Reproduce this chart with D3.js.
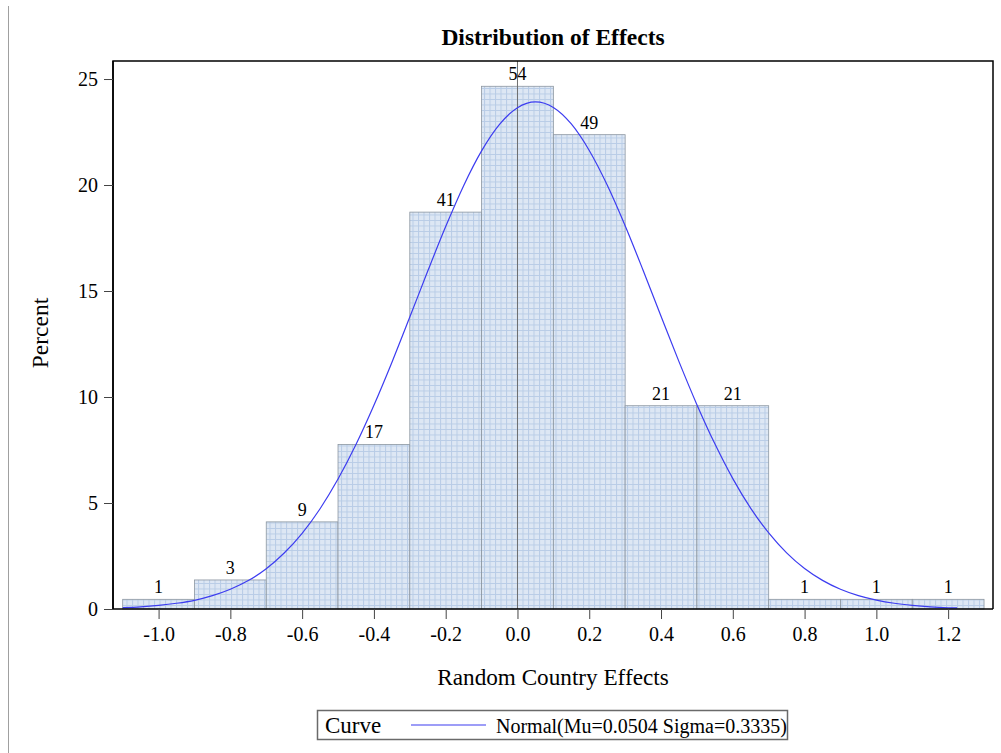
<!DOCTYPE html>
<html>
<head>
<meta charset="utf-8">
<script src="https://cdn.jsdelivr.net/npm/d3@7"></script>
<style>
  body { margin: 0; background: #fff; }
  svg { display: block; font-family: "Liberation Serif", "Times New Roman", serif; }
</style>
</head>
<body>
<svg id="chart" width="1001" height="753"></svg>
<script>
// histogram bins (left edges, width 0.2) and counts
var binStarts = [-1.1, -0.9, -0.7, -0.5, -0.3, -0.1, 0.1, 0.3, 0.5, 0.7, 0.9, 1.1];
var binCounts = [1, 3, 9, 17, 41, 54, 49, 21, 21, 1, 1, 1];
var binWidth = 0.2;
var xTicks = [-1.0, -0.8, -0.6, -0.4, -0.2, 0.0, 0.2, 0.4, 0.6, 0.8, 1.0, 1.2];
var yTicks = [0, 5, 10, 15, 20, 25];

// fitted normal curve (percent)
var curveX = [-1.1, -1.05, -1.0, -0.95, -0.9, -0.85, -0.8, -0.75, -0.7, -0.65, -0.6, -0.55, -0.5, -0.45, -0.4, -0.35, -0.3, -0.25, -0.2, -0.15, -0.1, -0.05, 0.0, 0.05, 0.1, 0.15, 0.2, 0.25, 0.3, 0.35, 0.4, 0.45, 0.5, 0.55, 0.6, 0.65, 0.7, 0.75, 0.8, 0.85, 0.9, 0.95, 1.0, 1.05, 1.1, 1.15, 1.2, 1.225];
var curveY = [0.06, 0.10, 0.17, 0.27, 0.41, 0.63, 0.93, 1.34, 1.90, 2.64, 3.57, 4.73, 6.13, 7.76, 9.61, 11.63, 13.77, 15.94, 18.04, 19.97, 21.61, 22.86, 23.65, 23.92, 23.66, 22.88, 21.63, 20.00, 18.08, 15.98, 13.81, 11.67, 9.64, 7.79, 6.15, 4.75, 3.59, 2.65, 1.91, 1.35, 0.93, 0.63, 0.42, 0.27, 0.17, 0.10, 0.06, 0.05];

(function() {
var total = d3.sum(binCounts);

var svg = d3.select("#chart");
var pLeft = 113, pRight = 993, pTop = 61, pBottom = 609;

var x = d3.scaleLinear().domain([-1.127, 1.325]).range([pLeft, pRight]);
var y = d3.scaleLinear().domain([0, 25.85]).range([pBottom, pTop]);

// page edge line on the far left
svg.append("line")
  .attr("x1", 8.5).attr("x2", 8.5).attr("y1", 6).attr("y2", 753)
  .attr("stroke", "#a0a0a0").attr("stroke-width", 1);

// grid texture for the bars
var defs = svg.append("defs");
var pat = defs.append("pattern")
  .attr("id", "grid").attr("patternUnits", "userSpaceOnUse")
  .attr("width", 5.5).attr("height", 5.5);
pat.append("rect").attr("width", 5.5).attr("height", 5.5).attr("fill", "#dde7f4");
pat.append("path").attr("d", "M0,0.5H5.5M0.5,0V5.5")
  .attr("stroke", "#b8cce6").attr("stroke-width", 1).attr("fill", "none");

var bins = binStarts.map(function(s, i) {
  return { x0: s, x1: s + binWidth, n: binCounts[i], pct: 100 * binCounts[i] / total };
});

svg.append("g").selectAll("rect")
  .data(bins)
  .enter().append("rect")
    .attr("x", function(d) { return x(d.x0); })
    .attr("y", function(d) { return y(d.pct); })
    .attr("width", function(d) { return x(d.x1) - x(d.x0); })
    .attr("height", function(d) { return y(0) - y(d.pct); })
    .attr("fill", "url(#grid)")
    .attr("stroke", "#8c96a0")
    .attr("stroke-width", 0.8);

// reference line at zero
svg.append("line")
  .attr("x1", x(0)).attr("x2", x(0)).attr("y1", pTop).attr("y2", pBottom)
  .attr("stroke", "#6e6e6e").attr("stroke-width", 1);

// count labels
svg.append("g").selectAll("text")
  .data(bins)
  .enter().append("text")
    .attr("x", function(d) { return x((d.x0 + d.x1) / 2); })
    .attr("y", function(d) { return y(d.pct) - 6; })
    .attr("text-anchor", "middle")
    .attr("font-size", 18)
    .text(function(d) { return d.n; });

// normal curve
var line = d3.line()
  .x(function(d, i) { return x(curveX[i]); })
  .y(function(d) { return y(d); })
  .curve(d3.curveMonotoneX);
svg.append("path")
  .datum(curveY)
  .attr("d", line)
  .attr("fill", "none")
  .attr("stroke", "#3c3cf0")
  .attr("stroke-width", 1.2);

// frame (top, right)
svg.append("path")
  .attr("d", "M" + pLeft + "," + pBottom + "V" + pTop + "H" + pRight + "V" + pBottom)
  .attr("fill", "none").attr("stroke", "#000").attr("stroke-width", 1.5);

var fmtX = function(d) { return d3.format(".1f")(d).replace("\u2212", "-"); };

var xAxis = svg.append("g")
  .attr("transform", "translate(0," + pBottom + ")")
  .call(d3.axisBottom(x).tickValues(xTicks).tickSize(10).tickPadding(8).tickFormat(fmtX));
var yAxis = svg.append("g")
  .attr("transform", "translate(" + pLeft + ",0)")
  .call(d3.axisLeft(y).tickValues(yTicks).tickSize(9).tickPadding(6).tickFormat(d3.format("d")));

[xAxis, yAxis].forEach(function(a) {
  a.select(".domain").attr("stroke", "#000").attr("stroke-width", 1.5);
  a.selectAll(".tick line").attr("stroke", "#444").attr("stroke-width", 1);
  a.selectAll(".tick text").attr("font-family", "Liberation Serif, serif").attr("font-size", 20).attr("fill", "#000");
});
xAxis.select(".domain").attr("d", "M" + pLeft + ",0H" + pRight);
yAxis.select(".domain").attr("d", "M0," + pBottom + "V" + pTop);

// title and axis labels
svg.append("text")
  .attr("x", (pLeft + pRight) / 2).attr("y", 45)
  .attr("text-anchor", "middle").attr("font-weight", "bold").attr("font-size", 23.5)
  .text("Distribution of Effects");

svg.append("text")
  .attr("x", (pLeft + pRight) / 2).attr("y", 685)
  .attr("text-anchor", "middle").attr("font-size", 23.2)
  .text("Random Country Effects");

svg.append("text")
  .attr("transform", "translate(48,333) rotate(-90)")
  .attr("text-anchor", "middle").attr("font-size", 23.5)
  .text("Percent");

// legend
var lg = svg.append("g");
lg.append("rect")
  .attr("x", 317.5).attr("y", 710.5).attr("width", 470).attr("height", 29)
  .attr("fill", "#fff").attr("stroke", "#6a6a6a").attr("stroke-width", 1.5);
lg.append("text").attr("x", 325).attr("y", 733).attr("font-size", 23).text("Curve");
lg.append("line").attr("x1", 411).attr("x2", 486).attr("y1", 725).attr("y2", 725)
  .attr("stroke", "#3c3cf0").attr("stroke-width", 1.2);
lg.append("text").attr("x", 496).attr("y", 733).attr("font-size", 20)
  .text("Normal(Mu=0.0504 Sigma=0.3335)");
})();
</script>
</body>
</html>
